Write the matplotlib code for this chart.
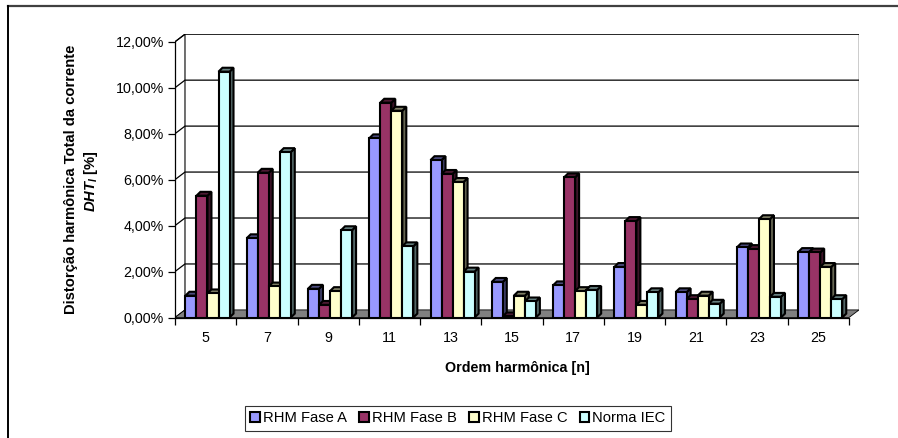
import numpy as np
import matplotlib
matplotlib.use("Agg")
import matplotlib.pyplot as plt
from matplotlib.patches import Polygon, Patch
from matplotlib.lines import Line2D
from matplotlib.colors import to_rgb

plt.rcParams['font.family'] = ['Liberation Sans', 'DejaVu Sans']
plt.rcParams['mathtext.fontset'] = 'custom'
plt.rcParams['mathtext.it'] = 'Liberation Sans:italic:bold'
plt.rcParams['mathtext.rm'] = 'Liberation Sans:bold'

# data (% of fundamental)
ordens = ["5", "7", "9", "11", "13", "15", "17", "19", "21", "23", "25"]
fase_a = [0.95, 3.45, 1.25, 7.8, 6.85, 1.55, 1.4, 2.2, 1.1, 3.05, 2.85]
fase_b = [5.3, 6.3, 0.55, 9.35, 6.25, 0.05, 6.1, 4.2, 0.8, 2.98, 2.83]
fase_c = [1.05, 1.35, 1.15, 9.0, 5.9, 0.95, 1.15, 0.55, 0.95, 4.28, 2.2]
norma_iec = [10.7, 7.2, 3.8, 3.1, 2.0, 0.7, 1.2, 1.1, 0.6, 0.9, 0.8]

series = [fase_a, fase_b, fase_c, norma_iec]
nomes = ["RHM Fase A", "RHM Fase B", "RHM Fase C", "Norma IEC"]
cores = ["#9999FF", "#993366", "#FFFFCC", "#CCFFFF"]

fig = plt.figure(figsize=(8.98, 4.38), dpi=100)
ax = fig.add_axes([175 / 898, 120.5 / 438, 684 / 898, 283.3 / 438])

n = len(ordens)
x = np.arange(n)
dxw, dyw = 0.163, 0.33   # wall depth
dxb, dyb = 0.065, 0.17   # bar depth
w = 0.18
ymax = 12

ax.set_xlim(-0.5, n - 0.5 + dxw)
ax.set_ylim(0, ymax + dyw)

# floor
ax.add_patch(Polygon([(-0.5, 0), (n - 0.5, 0), (n - 0.5 + dxw, dyw), (-0.5 + dxw, dyw)],
                     closed=True, facecolor="#808080", edgecolor="black", lw=0.6, zorder=1))
# left wall
ax.add_patch(Polygon([(-0.5, 0), (-0.5 + dxw, dyw), (-0.5 + dxw, ymax + dyw), (-0.5, ymax)],
                     closed=True, facecolor="white", edgecolor="black", lw=0.8, zorder=0.5))
# gridlines
for t in range(2, ymax + 1, 2):
    ax.plot([-0.5, -0.5 + dxw, n - 0.5 + dxw], [t, t + dyw, t + dyw],
            color="black", lw=0.9, zorder=1.5)
ax.plot([n - 0.5 + dxw, n - 0.5 + dxw], [dyw, ymax + dyw], color="black", lw=1.0, zorder=1.5)

# 3D-ish bars
for j, (vals, cor) in enumerate(zip(series, cores)):
    base = np.array(to_rgb(cor))
    side = tuple(base * 0.4)
    top = tuple(base * 0.5)
    for i, v in enumerate(vals):
        x0 = x[i] + (j - 1.5) * w + 0.03 - w / 2
        x1 = x0 + w
        z = 3 + j * 0.01
        ax.add_patch(Polygon([(x1, 0), (x1 + dxb, dyb), (x1 + dxb, v + dyb), (x1, v)],
                             closed=True, facecolor=side, edgecolor="black", lw=1.5, zorder=z))
        ax.add_patch(Polygon([(x0, v), (x1, v), (x1 + dxb, v + dyb), (x0 + dxb, v + dyb)],
                             closed=True, facecolor=top, edgecolor="black", lw=1.5, zorder=z))
        ax.add_patch(Polygon([(x0, 0), (x1, 0), (x1, v), (x0, v)],
                             closed=True, facecolor=cor, edgecolor="black", lw=1.5, zorder=z))

for s in ["top", "right"]:
    ax.spines[s].set_visible(False)
ax.spines["left"].set_bounds(0, ymax)
ax.spines["bottom"].set_bounds(-0.5, n - 0.5)
ax.spines["left"].set_linewidth(0.9)
ax.spines["bottom"].set_linewidth(0.9)
ax.patch.set_visible(False)

ax.set_yticks(range(0, ymax + 1, 2))
ax.set_yticklabels([f"{t:.2f}%".replace(".", ",") for t in range(0, ymax + 1, 2)], fontsize=10.3)
ax.tick_params(axis="y", length=5, width=0.9, pad=3)
ax.set_xticks(x)
ax.set_xticklabels(ordens, fontsize=10.3)
ax.set_xticks(np.arange(-0.5, n, 1), minor=True)
ax.tick_params(axis="x", which="major", length=0, pad=10)
ax.tick_params(axis="x", which="minor", length=5, width=0.9)

ax.set_xlabel("Ordem harmônica [n]", fontsize=10.3, fontweight="bold", labelpad=11)

fig.text(71 / 898, 1 - 179 / 438, "Distorção harmônica Total da corrente", rotation=90,
         ha="center", va="center", fontsize=10.6, fontweight="bold")
fig.text(91 / 898, 1 - 181 / 438, r"$DHT_I$ [%]", rotation=90,
         ha="center", va="center", fontsize=10.6, fontweight="bold")

handles = [Patch(facecolor=c, edgecolor="black", lw=1.5) for c in cores]
leg = fig.legend(handles, nomes, loc="center", bbox_to_anchor=(458 / 898, 1 - 418.5 / 438),
                 ncol=4, fontsize=10.6, frameon=True, fancybox=False, handlelength=0.65,
                 handleheight=0.65, handletextpad=0.2, columnspacing=0.85, borderpad=0.35,
                 borderaxespad=0)
leg.get_frame().set_edgecolor("black")
leg.get_frame().set_linewidth(0.8)

# chart outer border (top and left visible)
fig.add_artist(Line2D([8 / 898, 1], [1 - 6 / 438, 1 - 6 / 438], color="#404040", lw=1.6))
fig.add_artist(Line2D([8 / 898, 8 / 898], [0, 1 - 6 / 438], color="black", lw=1.4))

fig.savefig("out.png", dpi=100)
